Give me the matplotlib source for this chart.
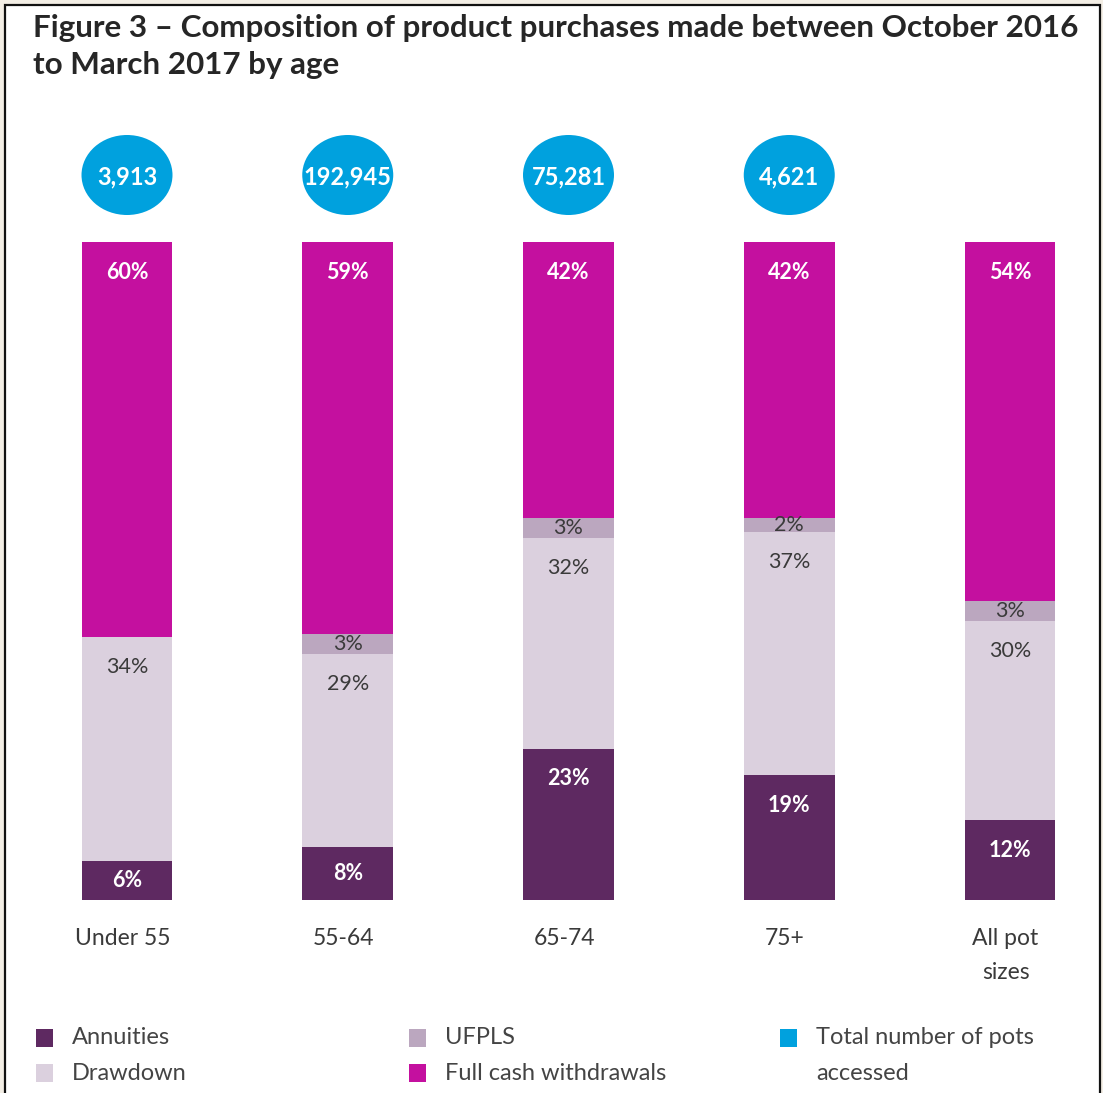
import numpy as np
import matplotlib
matplotlib.use('Agg')
import matplotlib.pyplot as plt
from matplotlib.patches import Ellipse, Rectangle

# data
categories = ['Under 55', '55-64', '65-74', '75+', 'All pot\nsizes']
annuities = [6, 8, 23, 19, 12]
drawdown = [34, 29, 32, 37, 30]
ufpls = [0, 3, 3, 2, 3]
full_cash = [60, 59, 42, 42, 54]
pots_accessed = ['3,913', '192,945', '75,281', '4,621', None]

series = [annuities, drawdown, ufpls, full_cash]
names = ['Annuities', 'Drawdown', 'UFPLS', 'Full cash withdrawals']
colors = ['#5E2961', '#DBD0DE', '#BBA7BF', '#C4109F']
txt_colors = ['white', '#3a3a3a', '#3a3a3a', 'white']
bubble_col = '#00A1DE'

plt.rcParams['font.family'] = ['Lato', 'DejaVu Sans']

W, H = 1103, 1093
fig = plt.figure(figsize=(W / 100, H / 100), dpi=100, facecolor='#F3EEE5')

# white panel with black frame
fig.patches.append(Rectangle((4.5 / W, -0.02), (1100 - 4.5) / W, 1 - 4.5 / H + 0.02,
                             transform=fig.transFigure, facecolor='white',
                             edgecolor='#111111', linewidth=1.6, zorder=-5))

ax = fig.add_axes([0, 0, 1, 1])
ax.set_facecolor('none')
ax.set_zorder(2)
px_x = 220.75   # px per category
px_y = 6.58     # px per percent
ax.set_xlim(-127 / px_x, (W - 127) / px_x)
ax.set_ylim(-(H - 900) / px_y, 900 / px_y)
ax.axis('off')

x = np.arange(len(categories))
vals = np.array(series, dtype=float)
vals = vals / vals.sum(axis=0) * 100   # bars fill to 100%
bottom = np.zeros(len(categories))
for i, v in enumerate(vals):
    ax.bar(x, v, 0.41, bottom=bottom, color=colors[i], linewidth=0, zorder=2)
    for j in range(len(categories)):
        raw = series[i][j]
        if raw == 0:
            continue
        top = bottom[j] + v[j]
        if v[j] < 9:
            ypos = bottom[j] + v[j] / 2
        else:
            ypos = top - 4.6
        bold = txt_colors[i] == 'white'
        ax.text(x[j], ypos, f'{raw}%', ha='center', va='center', fontsize=15.5,
                color=txt_colors[i], fontweight='bold' if bold else 'normal', zorder=3)
    bottom += v

for j, lab in enumerate(categories):
    ax.text(x[j] - 0.02, -4.3, lab, ha='center', va='top', fontsize=16.5, color='#3a3a3a',
            linespacing=1.75)

for j, n in enumerate(pots_accessed):
    if n is None:
        continue
    ax.add_patch(Ellipse((x[j], (900 - 175) / px_y), 91 / px_x, 80 / px_y,
                         facecolor=bubble_col, edgecolor='none', zorder=2))
    ax.text(x[j], (900 - 177) / px_y, n, ha='center', va='center', fontsize=17,
            color='white', fontweight='bold', zorder=3)

# title
fig.text(33 / W, 1 - 37 / H, 'Figure 3 \u2013 Composition of product purchases made between October 2016',
         fontsize=22.6, fontweight='bold', color='#262626')
fig.text(33 / W, 1 - 74 / H, 'to March 2017 by age',
         fontsize=22.6, fontweight='bold', color='#262626')

# legend
leg = [(36, 1038, colors[0], 'Annuities'), (36, 1073, colors[1], 'Drawdown'),
       (409, 1038, colors[2], 'UFPLS'), (409, 1073, colors[3], 'Full cash withdrawals'),
       (780, 1038, bubble_col, 'Total number of pots')]
for lx, ly, c, t in leg:
    fig.patches.append(Rectangle((lx / W, 1 - (ly + 9) / H), 17 / W, 18 / H,
                                 transform=fig.transFigure, facecolor=c, edgecolor='none'))
    fig.text((lx + 36) / W, 1 - ly / H, t, fontsize=17, color='#444444', va='center')
fig.text(816 / W, 1 - 1073 / H, 'accessed', fontsize=17, color='#444444', va='center')

fig.savefig('out.png', dpi=100, facecolor=fig.get_facecolor())
